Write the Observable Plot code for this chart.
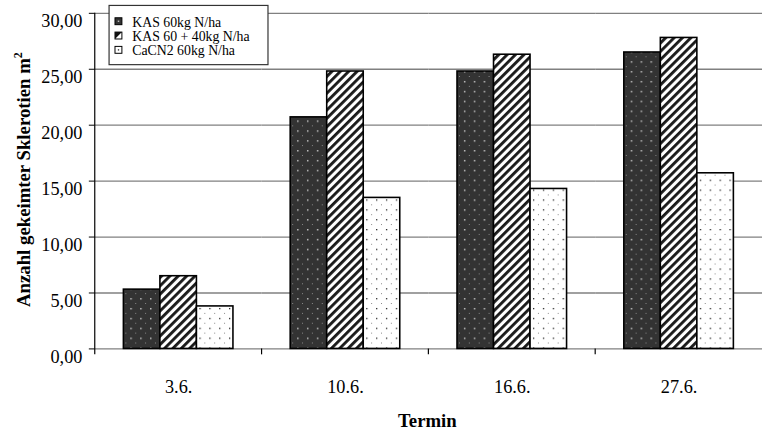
<!DOCTYPE html>
<html><head><meta charset="utf-8">
<script src="https://cdn.jsdelivr.net/npm/d3@7"></script>
<script src="https://cdn.jsdelivr.net/npm/@observablehq/plot@0.6"></script>
<style>
html,body{margin:0;padding:0;overflow:hidden;background:#fff;width:762px;height:439px}
#chart{width:762px;height:439px;overflow:hidden;position:relative}
</style>
</head><body><div id="chart"></div>
<script>
const termine = ["3.6.", "10.6.", "16.6.", "27.6."];
const serien = ["KAS 60kg N/ha", "KAS 60 + 40kg N/ha", "CaCN2 60kg N/ha"];
const kas60 = [5.3, 20.7, 24.8, 26.5];
const kas6040 = [6.5, 24.8, 26.3, 27.8];
const cacn2 = [3.8, 13.5, 14.3, 15.7];
const yTicks = [0, 5, 10, 15, 20, 25, 30];
const patternIds = ["pDark", "pHatch", "pDots"];
const werte = [kas60, kas6040, cacn2];

const data = [];
termine.forEach((t, i) => {
  serien.forEach((s, j) => {
    data.push({termin: t, serie: s, wert: werte[j][i], muster: `url(#${patternIds[j]})`});
  });
});

const FONT = "'Liberation Serif', 'Times New Roman', serif";
const fmt = d => d.toFixed(2).replace(".", ",");

const plot = Plot.plot({
  width: 772, height: 439,
  marginLeft: 96, marginRight: 0, marginTop: 13, marginBottom: 86,
  style: {fontFamily: FONT, background: "white", color: "#000"},
  fx: {domain: termine, padding: 0, label: null},
  x: {domain: serien, paddingInner: 0, paddingOuter: 0.74, axis: null},
  y: {domain: [0, 30], label: null},
  color: {type: "identity"},
  marks: [
    Plot.ruleY(yTicks, {stroke: "#808080", strokeWidth: 1.3}),
    Plot.barY(data, {fx: "termin", x: "serie", y: "wert", fill: "muster", stroke: "#000", strokeWidth: 1.6}),
    Plot.axisY(yTicks, {tickSize: 6, fill: "none", stroke: "#000", label: null}),
    Plot.axisY(yTicks, {tickSize: 0, tickPadding: 13, dy: 8, fontSize: 18.5, fill: "#000", tickFormat: fmt, label: null}),
    Plot.axisFx({anchor: "bottom", tickSize: 0, tickPadding: 32, fontSize: 18.5, fill: "#000", label: null})
  ]
});

const svg = d3.select(plot);
const defs = svg.insert("defs", ":first-child");
// dark dotted
const pd = defs.append("pattern").attr("id", "pDark").attr("patternUnits", "userSpaceOnUse").attr("width", 10).attr("height", 10);
pd.append("rect").attr("width", 10).attr("height", 10).attr("fill", "#333");
pd.append("rect").attr("x", 2).attr("y", 2).attr("width", 1.5).attr("height", 1.5).attr("fill", "#c0c0c0");
pd.append("rect").attr("x", 7).attr("y", 7).attr("width", 1).attr("height", 1).attr("fill", "#8a8a8a");
// hatch
const ph = defs.append("pattern").attr("id", "pHatch").attr("patternUnits", "userSpaceOnUse").attr("width", 6).attr("height", 6).attr("patternTransform", "rotate(45)");
ph.append("rect").attr("width", 6).attr("height", 6).attr("fill", "#fff");
ph.append("rect").attr("width", 2.9).attr("height", 6).attr("fill", "#1a1a1a");
// white dotted
const pw = defs.append("pattern").attr("id", "pDots").attr("patternUnits", "userSpaceOnUse").attr("width", 10).attr("height", 10);
pw.append("rect").attr("width", 10).attr("height", 10).attr("fill", "#fff");
pw.append("rect").attr("x", 2).attr("y", 2).attr("width", 1.3).attr("height", 1.3).attr("fill", "#222");
pw.append("rect").attr("x", 7).attr("y", 7).attr("width", 1).attr("height", 1).attr("fill", "#888");

const y = plot.scale("y");
const fx = plot.scale("fx");
const y0 = y.apply(0);
// y axis line
svg.append("line").attr("x1", 96).attr("x2", 96).attr("y1", y.apply(30)).attr("y2", y0 + 6).attr("stroke", "#000").attr("stroke-width", 1.2);
// category boundary ticks
termine.slice(1).forEach(t => {
  const xb = fx.apply(t);
  svg.append("line").attr("x1", xb).attr("x2", xb).attr("y1", y0).attr("y2", y0 + 6).attr("stroke", "#000").attr("stroke-width", 1.2);
});

// axis titles
svg.append("text").attr("x", 433).attr("y", 433).attr("text-anchor", "middle")
  .attr("font-weight", "bold").attr("font-size", 19).attr("font-family", FONT).attr("fill", "#000").text("Termin");
const yt = svg.append("text").attr("transform", "translate(30,182) rotate(-90)").attr("text-anchor", "middle")
  .attr("font-weight", "bold").attr("font-size", 19).attr("font-family", FONT).attr("fill", "#000");
yt.append("tspan").text("Anzahl gekeimter Sklerotien m");
yt.append("tspan").attr("dy", -8).attr("font-size", 12).text("2");

// legend
const lg = svg.append("g").attr("font-family", FONT).attr("font-size", 14).attr("text-anchor", "start");
lg.append("rect").attr("x", 110.5).attr("y", 5.5).attr("width", 161).attr("height", 60).attr("fill", "#fff").attr("stroke", "#333").attr("stroke-width", 1.2);
serien.forEach((s, j) => {
  const base = 27 + j * 14.5;
  const sx = 116, sy = base - 9.5;
  if (j === 0) {
    lg.append("rect").attr("x", sx + 0.5).attr("y", sy + 0.5).attr("width", 7).attr("height", 7).attr("fill", "#333").attr("stroke", "#000");
    lg.append("rect").attr("x", sx + 3.3).attr("y", sy + 3.3).attr("width", 1.5).attr("height", 1.5).attr("fill", "#bbb");
  } else if (j === 1) {
    lg.append("rect").attr("x", sx + 0.5).attr("y", sy + 0.5).attr("width", 7).attr("height", 7).attr("fill", "#fff").attr("stroke", "#000");
    lg.append("path").attr("d", `M${sx + 0.5},${sy + 0.5}H${sx + 7.5}L${sx + 0.5},${sy + 7.5}Z`).attr("fill", "#111");
  } else {
    lg.append("rect").attr("x", sx + 0.5).attr("y", sy + 0.5).attr("width", 7).attr("height", 7).attr("fill", "#fff").attr("stroke", "#000");
    lg.append("rect").attr("x", sx + 3.4).attr("y", sy + 3.4).attr("width", 1.3).attr("height", 1.3).attr("fill", "#222");
  }
  lg.append("text").attr("x", 134).attr("y", base).attr("fill", "#000").attr("text-anchor", "start").text(s);
});

document.getElementById("chart").appendChild(plot);
</script>
</body></html>
